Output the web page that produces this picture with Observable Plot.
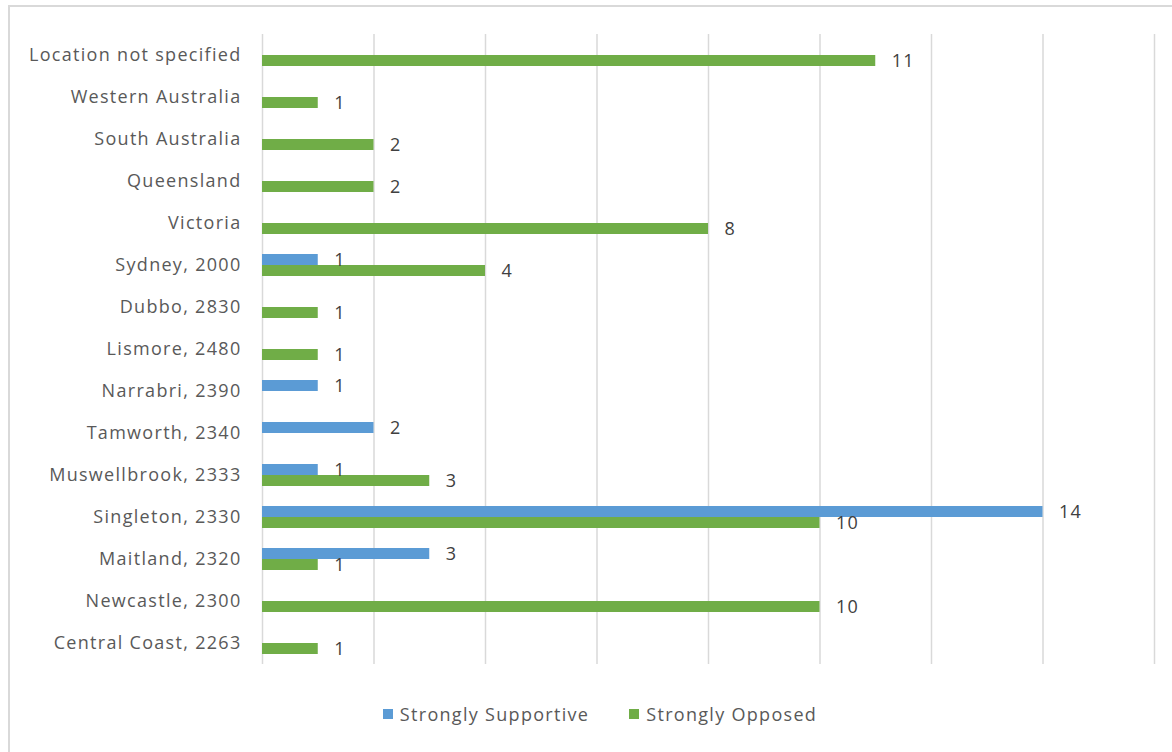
<!DOCTYPE html>
<html>
<head>
<meta charset="utf-8">
<script src="https://cdn.jsdelivr.net/npm/d3@7"></script>
<script src="https://cdn.jsdelivr.net/npm/@observablehq/plot@0.6"></script>
<style>
  html, body { margin: 0; padding: 0; background: #fff; }
  body { width: 1172px; height: 752px; position: relative; overflow: hidden; font-family: "Open Sans", sans-serif; }
  #frame { position: absolute; left: 8px; top: 5px; width: 1200px; height: 800px; border: 2px solid #d9d9d9; box-sizing: border-box; }
  #chart { position: absolute; left: 0; top: 0; }
  #legend { position: absolute; left: 0; width: 1172px; top: 702px; display: flex; justify-content: center; gap: 40px; font-size: 18px; letter-spacing: 1.3px; color: #595959; padding-left: 28px; box-sizing: border-box; }
  .item { display: flex; align-items: center; gap: 7px; }
  .sw { width: 10px; height: 10px; display: inline-block; }
</style>
</head>
<body>
<div id="frame"></div>
<div id="chart"></div>
<div id="legend"></div>
<script>
const categories = ["Location not specified", "Western Australia", "South Australia", "Queensland", "Victoria", "Sydney, 2000", "Dubbo, 2830", "Lismore, 2480", "Narrabri, 2390", "Tamworth, 2340", "Muswellbrook, 2333", "Singleton, 2330", "Maitland, 2320", "Newcastle, 2300", "Central Coast, 2263"];
const seriesNames = ["Strongly Supportive", "Strongly Opposed"];
const supportive = [null, null, null, null, null, 1, null, null, 1, 2, 1, 14, 3, null, null];
const opposed = [11, 1, 2, 2, 8, 4, 1, 1, null, null, 3, 10, 1, 10, 1];
const seriesColors = ["#5b9bd5", "#70ad47"];
const gridTicks = [0, 2, 4, 6, 8, 10, 12, 14, 16];

const rows = [];
categories.forEach((c, i) => {
  if (supportive[i] != null) rows.push({category: c, series: seriesNames[0], value: supportive[i]});
  if (opposed[i] != null) rows.push({category: c, series: seriesNames[1], value: opposed[i]});
});

const gridRows = [];
categories.forEach(c => gridTicks.forEach(t => gridRows.push({category: c, t})));

const chart = Plot.plot({
  width: 1172,
  height: 680,
  marginLeft: 262,
  marginRight: 18,
  marginTop: 33,
  marginBottom: 15,
  style: {fontFamily: "Open Sans, sans-serif", fontSize: "18px", letterSpacing: "1.3px", color: "#595959", background: "transparent"},
  x: {domain: [0, 16], axis: null},
  y: {domain: seriesNames, axis: null, paddingInner: 0, paddingOuter: 0.755},
  fy: {domain: categories, padding: 0, label: null, tickSize: 0, tickPadding: 21, axis: "left"},
  color: {domain: seriesNames, range: seriesColors},
  marks: [
    Plot.ruleX(gridRows, {x: "t", fy: "category", stroke: "#d9d9d9", strokeWidth: 1.5}),
    Plot.barX(rows, {x: "value", y: "series", fy: "category", fill: "series"}),
    Plot.text(rows, {x: "value", y: "series", fy: "category", text: d => String(d.value), textAnchor: "start", dx: 16, fill: "#404040", fontSize: 18})
  ]
});
document.getElementById("chart").appendChild(chart);

const legend = document.getElementById("legend");
seriesNames.forEach((s, i) => {
  const it = document.createElement("div");
  it.className = "item";
  it.innerHTML = `<span class="sw" style="background:${seriesColors[i]}"></span><span>${s}</span>`;
  legend.appendChild(it);
});
</script>
</body>
</html>
